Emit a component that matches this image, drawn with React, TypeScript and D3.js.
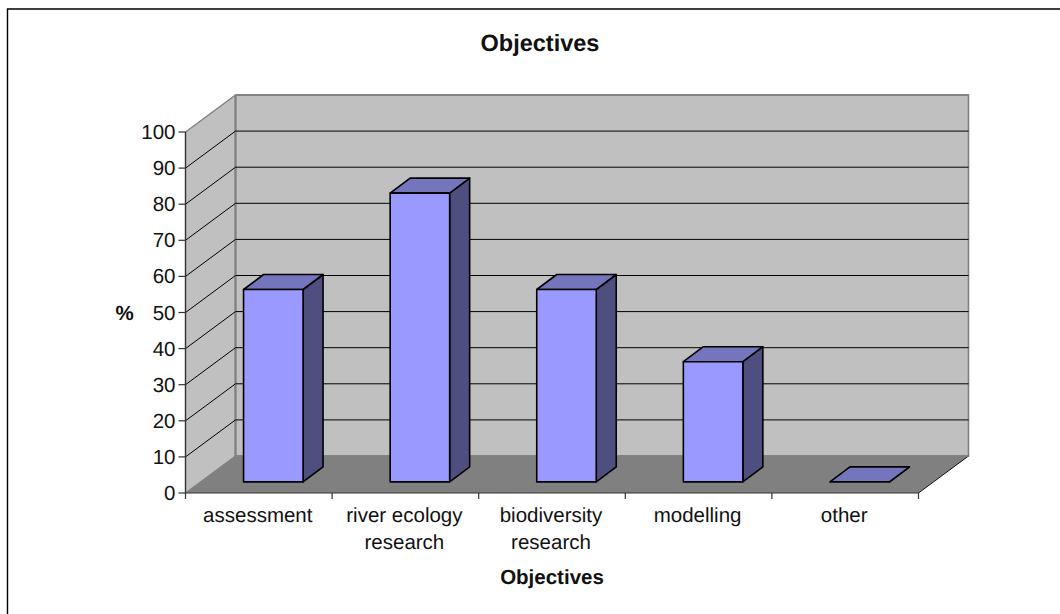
import React from "react";
import * as d3 from "d3";

const categories: string[][] = [
  ["assessment"],
  ["river ecology", "research"],
  ["biodiversity", "research"],
  ["modelling"],
  ["other"],
];
const values = [53.3, 80, 53.3, 33.3, 0];
const yTicks = d3.range(0, 101, 10);
const chartTitle = "Objectives";
const xTitle = "Objectives";
const yTitle = "%";

const FONT = "'Liberation Sans', Arial, sans-serif";
const INK = "#111";

export default function App() {
  // Front plane of the pseudo-3D box and the depth offset of its back plane.
  const x0 = 185.5, x1 = 918.5, y0 = 493, y100 = 132;
  const depthX = 50, depthY = -37;
  const y = d3.scaleLinear().domain([0, 100]).range([y0, y100]);
  const x = d3.scaleBand<number>().domain(d3.range(categories.length)).range([x0, x1]);

  // Bars sit 0.3 of the way into the floor depth.
  const barW = 59.5, barDX = 20, barDY = -15, inset = 0.3;
  const barGeom = values.map((v, i) => {
    const cx = x(i)! + x.bandwidth() / 2 + depthX * inset - 0.5;
    const l = cx - barW / 2, r = cx + barW / 2;
    const base = y(0) + depthY * inset;
    const top = base - (y(0) - y(v));
    return { l, r, base, top };
  });

  const poly = (pts: number[][]) => d3.line()(pts as [number, number][]) + "Z";

  return (
    <svg
      width={1060}
      height={614}
      style={{ position: "absolute", left: 0, top: 0, background: "#fff" }}
      fontFamily={FONT}
      fill={INK}
      textRendering="geometricPrecision"
    >
      <path d="M7.5,614V9H1060" fill="none" stroke="#000" strokeWidth={1.4} />

      <text x={540} y={50.5} textAnchor="middle" fontSize={23.5} fontWeight="bold">{chartTitle}</text>

      {/* Walls and floor */}
      <path d={poly([[x0, y0], [x0, y100], [x0 + depthX, y100 + depthY], [x0 + depthX, y0 + depthY]])}
        fill="#c0c0c0" stroke="none" />
      <rect x={x0 + depthX} y={y100 + depthY} width={x1 - x0} height={y0 - y100}
        fill="#c0c0c0" stroke="#808080" strokeWidth={1.6} />
      <path d={poly([[x0, y0], [x1, y0], [x1 + depthX, y0 + depthY], [x0 + depthX, y0 + depthY]])}
        fill="#808080" stroke="none" />
      <path d={`M${x0},${y100}L${x0 + depthX},${y100 + depthY}`} stroke="#808080" strokeWidth={1.4} fill="none" />
      <path d={`M${x0},${y0}L${x0 + depthX},${y0 + depthY}`} stroke="#808080" strokeWidth={1.2} fill="none" />
      <path d={`M${x1},${y0}L${x1 + depthX},${y0 + depthY}`} stroke="#111" strokeWidth={1} fill="none" />
      <line x1={x0 + depthX} x2={x0 + depthX} y1={y100 + depthY} y2={y0 + depthY} stroke="#808080" strokeWidth={2} />

      {/* Gridlines across both walls */}
      {yTicks.filter((t) => t > 0 && t < 100).map((t) => (
        <path key={t} d={`M${x0},${y(t)}L${x0 + depthX},${y(t) + depthY}H${x1 + depthX}`} fill="none" stroke="#000" strokeWidth={1} />
      ))}
      <path d={`M${x0 + depthX},${y(100) + depthY}H${x1 + depthX}`} stroke="#808080" strokeWidth={1.4} fill="none" />
      <path d={`M${x0 + depthX},${y(0) + depthY}H${x1 + depthX}`} stroke="#808080" strokeWidth={1.4} fill="none" />

      {/* Bars */}
      {barGeom.map((b, i) => (
        <g key={i} stroke="#000" strokeWidth={1.6} strokeLinejoin="round">
          <path d={poly([[b.r, b.base], [b.r, b.top], [b.r + barDX, b.top + barDY], [b.r + barDX, b.base + barDY]])} fill="#4f4f7f" />
          <path d={poly([[b.l, b.top], [b.r, b.top], [b.r + barDX, b.top + barDY], [b.l + barDX, b.top + barDY]])} fill="#7575bd" />
          {values[i] > 0 && <rect x={b.l} y={b.top} width={b.r - b.l} height={b.base - b.top} fill="#9999ff" />}
        </g>
      ))}

      {/* Value axis */}
      <line x1={x0} x2={x0} y1={y100} y2={y0} stroke="#333" strokeWidth={1.4} />
      {yTicks.map((t) => (
        <g key={t}>
          <line x1={x0 - 7} x2={x0} y1={y(t)} y2={y(t)} stroke="#333" strokeWidth={1.2} />
          <text x={x0 - 10} y={y(t) + 7} textAnchor="end" fontSize={20.5}>{t}</text>
        </g>
      ))}
      <text x={124.5} y={320} textAnchor="middle" fontSize={20.5} fontWeight="bold">{yTitle}</text>

      {/* Category axis */}
      <line x1={x0} x2={x1} y1={y0} y2={y0} stroke="#333" strokeWidth={1.2} />
      {d3.range(categories.length + 1).map((i) => {
        const tx = x0 + i * x.step();
        return <line key={i} x1={tx} x2={tx} y1={y0} y2={y0 + 6} stroke="#333" strokeWidth={1.2} />;
      })}
      {categories.map((lines, i) => (
        <text key={i} textAnchor="middle" fontSize={20.5}>
          {lines.map((ln, j) => (
            <tspan key={j} x={x(i)! + x.bandwidth() / 2 - 1} y={521.5 + j * 27}>{ln}</tspan>
          ))}
        </text>
      ))}
      <text x={552} y={584} textAnchor="middle" fontSize={20.5} fontWeight="bold">{xTitle}</text>
    </svg>
  );
}
